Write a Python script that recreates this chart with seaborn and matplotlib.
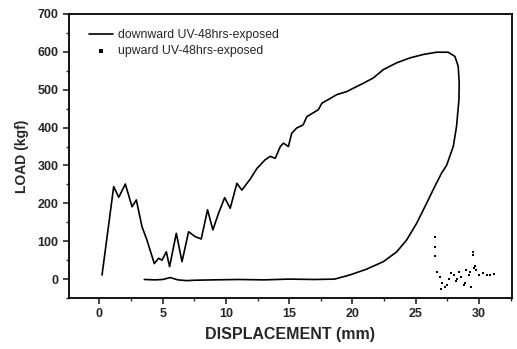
import matplotlib
matplotlib.use("Agg")
import matplotlib.pyplot as plt
import seaborn as sns
import pandas as pd
from matplotlib.ticker import MultipleLocator

# downward series (full loading/unloading loop), displacement mm / load kgf
down_x = [0.21, 1.13, 1.53, 2.05, 2.58, 2.92, 3.37, 3.76, 4.34, 4.68, 4.95, 5.29, 5.55,
          6.08, 6.53, 7.05, 7.58, 8.05, 8.55, 8.97, 9.42, 9.9, 10.34, 10.87, 11.26,
          11.92, 12.45, 13.1, 13.5, 13.9, 14.3, 14.55, 14.94, 15.2, 15.6, 16.1, 16.4,
          16.65, 17.3, 17.6, 18.1, 18.76, 19.55, 20.07, 20.86, 21.65, 22.44, 23.5,
          24.55, 25.6, 26.65, 27.57, 28.1, 28.36, 28.44, 28.42, 28.23, 27.97, 27.44,
          27.05, 26.5, 25.86, 25.07, 24.28, 23.5, 22.44, 21.1, 19.8, 18.6, 17.0,
          15.0, 13.0, 11.0, 9.0, 7.5, 6.9, 6.2, 5.6, 5.0, 4.4, 3.55]
down_y = [11, 244, 216, 251, 191, 209, 138, 103, 41, 55, 50, 72, 33,
          121, 46, 125, 112, 106, 183, 130, 174, 215, 187, 253, 235,
          264, 292, 315, 324, 319, 350, 359, 350, 385, 399, 407, 429,
          434, 447, 465, 474, 487, 495, 504, 517, 531, 553, 571,
          584, 593, 599, 599, 588, 562, 518, 474, 403, 350, 300,
          280, 244, 200, 147, 103, 72, 46, 26, 11, 0, -1,
          0, -2, -1, -2, -3, -4, -2, 4, -1, -2, -1]

# upward series (scattered points near the end of the test)
up_x = [26.5, 26.5, 26.5, 29.5, 29.5, 26.7, 26.9, 27.1, 27.3, 27.6, 27.8, 28.0,
        28.2, 28.4, 28.6, 28.8, 29.0, 29.2, 29.4, 29.6, 29.8, 30.0, 30.3, 30.6,
        30.9, 31.2, 27.0, 27.5, 28.3, 28.9, 29.3, 29.7]
up_y = [112, 85, 60, 72, 63, 20, 5, -10, -20, 0, 15, 10, -5, 20, 5, -15, 25, 10,
        -20, 30, 25, 10, 15, 12, 10, 14, -25, -15, 0, -10, 20, 35]

df_down = pd.DataFrame({"x": down_x, "y": down_y})
df_up = pd.DataFrame({"x": up_x, "y": up_y})

sns.set_style("ticks")
plt.rcParams["font.family"] = ["Liberation Sans", "DejaVu Sans"]

fig = plt.figure(figsize=(5.17, 3.49), dpi=100)
ax = fig.add_axes([0.1335, 0.146, 0.8565, 0.814])

sns.lineplot(data=df_down, x="x", y="y", sort=False, estimator=None, ax=ax,
             color="black", linewidth=1.2, label="downward UV-48hrs-exposed")
sns.scatterplot(data=df_up, x="x", y="y", ax=ax, color="black", s=3,
                marker="s", linewidth=0, label="upward UV-48hrs-exposed")

ax.set_xlim(-2.4, 32.6)
ax.set_ylim(-50, 700)
ax.xaxis.set_major_locator(MultipleLocator(5))
ax.xaxis.set_minor_locator(MultipleLocator(2.5))
ax.yaxis.set_major_locator(MultipleLocator(100))
ax.yaxis.set_minor_locator(MultipleLocator(50))
ax.tick_params(which="major", direction="out", length=4, width=1.2,
               labelsize=9, top=False, right=False)
ax.tick_params(which="minor", direction="out", length=2.5, width=1.0,
               top=False, right=False)
for lab in ax.get_xticklabels() + ax.get_yticklabels():
    lab.set_fontweight("bold")
for sp in ax.spines.values():
    sp.set_visible(True)
    sp.set_linewidth(1.3)
    sp.set_color("black")

ax.set_xlabel("DISPLACEMENT (mm)", fontsize=11.5, fontweight="bold", labelpad=5)
ax.set_ylabel("LOAD (kgf)", fontsize=10, fontweight="bold", labelpad=6)

leg = ax.legend(loc="upper left", frameon=False, fontsize=8.8,
                handlelength=2.0, handletextpad=0.4, labelspacing=0.35,
                bbox_to_anchor=(0.02, 0.985), markerscale=1.5)

fig.savefig("out.png", dpi=100)
